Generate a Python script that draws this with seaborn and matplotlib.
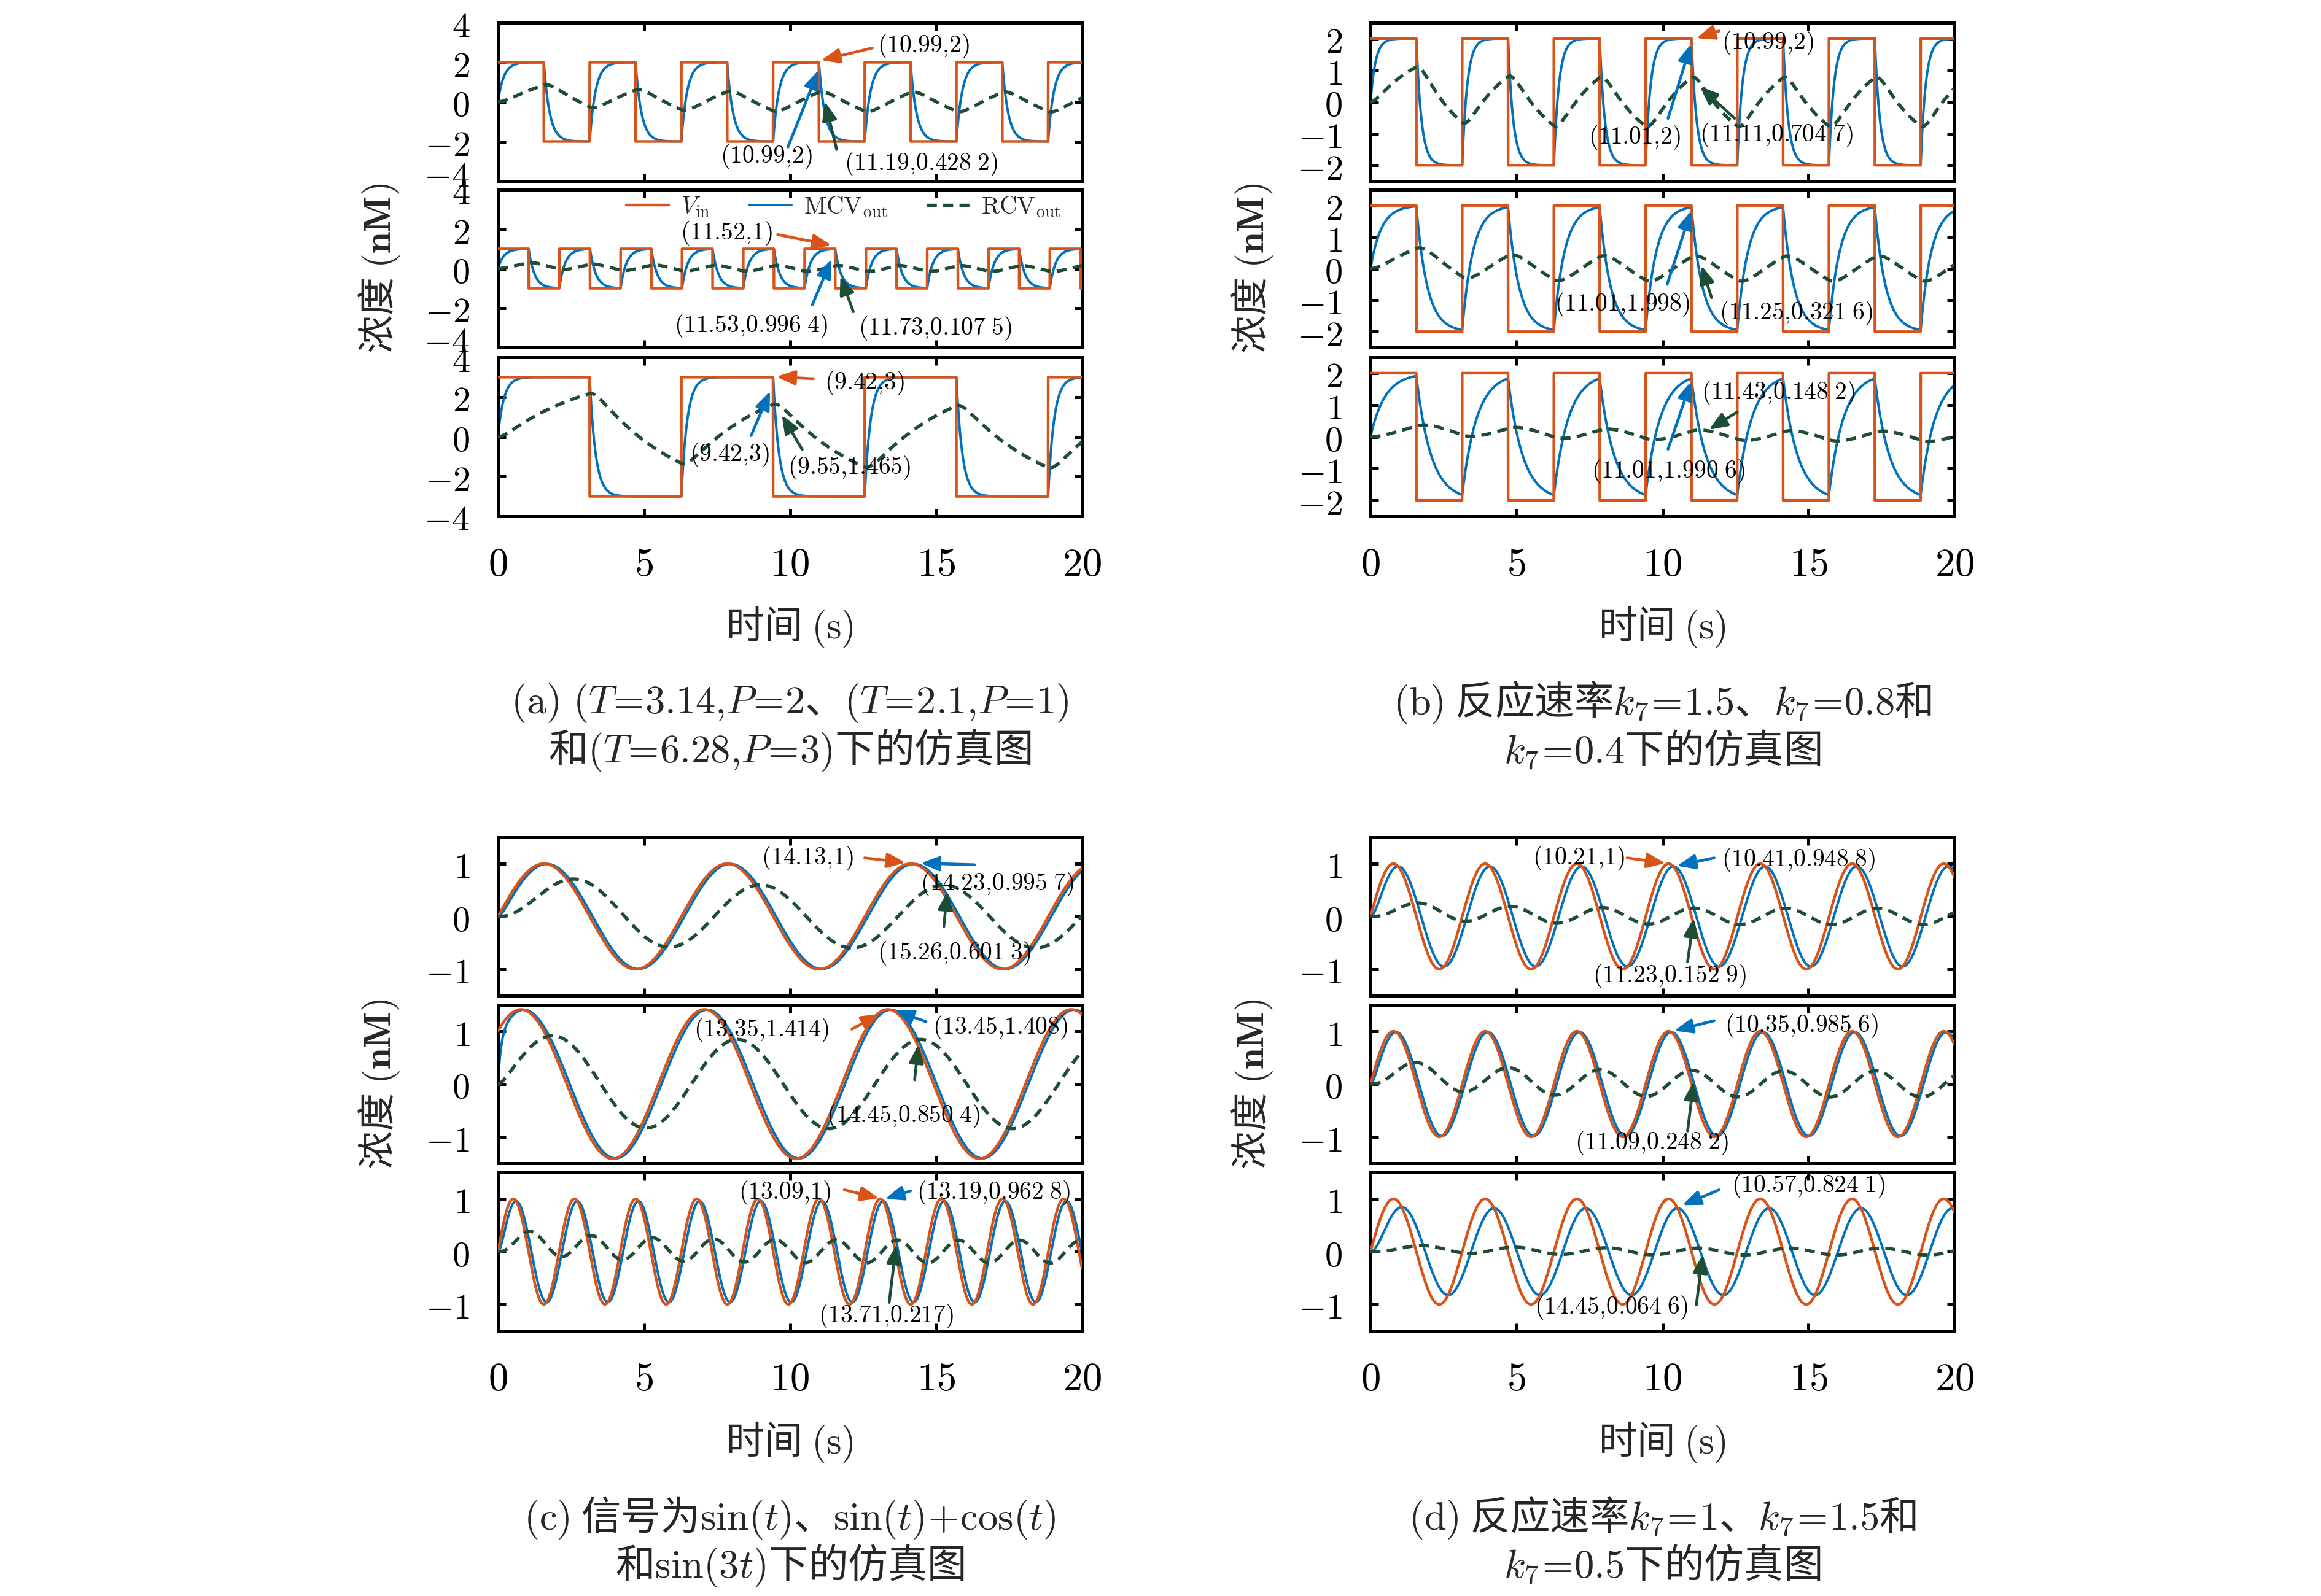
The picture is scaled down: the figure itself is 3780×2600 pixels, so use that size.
import numpy as np
import matplotlib
matplotlib.use("Agg")
import matplotlib.pyplot as plt
from matplotlib.lines import Line2D
from matplotlib.ticker import FixedLocator, FuncFormatter
from matplotlib.transforms import ScaledTranslation
import seaborn as sns

# ---------------- data ----------------
t_end = 20.0
dt = 0.002

# (a) square inputs: period T and amplitude P
a_period = [3.14, 2.1, 6.28]
a_amp = [2, 1, 3]
# (b) square input T=3.14, P=2 with k7 = 1.5, 0.8, 0.4
b_period = [3.14, 3.14, 3.14]
b_amp = [2, 2, 2]
b_k7 = [1.5, 0.8, 0.4]
# (c) sine inputs
c_signals = ["sin(t)", "sin(t)+cos(t)", "sin(3t)"]
# (d) sin(2t) input with k7 = 1, 1.5, 0.5
d_signals = ["sin(2t)", "sin(2t)", "sin(2t)"]
d_k7 = [1, 1.5, 0.5]

# response rates estimated from the curves
# MCV follows the input, RCV accumulates the MCV with a slow leak
a_mcv_rate = [5.0, 5.0, 5.0]
a_rcv_gain = [0.39, 0.39, 0.39]
a_rcv_decay = [0.34, 0.34, 0.34]
b_mcv_rate = [5.8, 2.7, 2.0]
b_rcv_gain = [0.62, 0.38, 0.17]
b_rcv_decay = [0.7, 0.6, 0.15]
c_mcv_rate = [10.0, 10.0, 10.0]
c_rcv_gain = [0.70, 0.70, 0.68]
c_rcv_decay = [0.6, 0.6, 0.3]
d_mcv_rate = [6.0, 11.0, 2.9]
d_rcv_gain = [0.326, 0.51, 0.158]
d_rcv_decay = [0.3, 0.3, 0.3]

# annotation labels (series, text) per sub-plot
a_notes = [[("vin", r"$(10.99{,}2)$"), ("mcv", r"$(10.99{,}2)$"), ("rcv", r"$(11.19{,}0.428\;2)$")],
           [("vin", r"$(11.52{,}1)$"), ("mcv", r"$(11.53{,}0.996\;4)$"), ("rcv", r"$(11.73{,}0.107\;5)$")],
           [("vin", r"$(9.42{,}3)$"), ("mcv", r"$(9.42{,}3)$"), ("rcv", r"$(9.55{,}1.465)$")]]
b_notes = [[("vin", r"$(10.99{,}2)$"), ("mcv", r"$(11.01{,}2)$"), ("rcv", r"$(11.11{,}0.704\;7)$")],
           [("mcv", r"$(11.01{,}1.998)$"), ("rcv", r"$(11.25{,}0.321\;6)$")],
           [("rcv", r"$(11.43{,}0.148\;2)$"), ("mcv", r"$(11.01{,}1.990\;6)$")]]
c_notes = [[("vin", r"$(14.13{,}1)$"), ("mcv", r"$(14.23{,}0.995\;7)$"), ("rcv", r"$(15.26{,}0.601\;3)$")],
           [("vin", r"$(13.35{,}1.414)$"), ("mcv", r"$(13.45{,}1.408)$"), ("rcv", r"$(14.45{,}0.850\;4)$")],
           [("vin", r"$(13.09{,}1)$"), ("mcv", r"$(13.19{,}0.962\;8)$"), ("rcv", r"$(13.71{,}0.217)$")]]
d_notes = [[("vin", r"$(10.21{,}1)$"), ("mcv", r"$(10.41{,}0.948\;8)$"), ("rcv", r"$(11.23{,}0.152\;9)$")],
           [("mcv", r"$(10.35{,}0.985\;6)$"), ("rcv", r"$(11.09{,}0.248\;2)$")],
           [("mcv", r"$(10.57{,}0.824\;1)$"), ("rcv", r"$(14.45{,}0.064\;6)$")]]

captions = [
    (r"$(\mathrm{a})\ (T\!=\!3.14{,}P\!=\!2$、$(T\!=\!2.1{,}P\!=\!1)$",
     r"和$(T\!=\!6.28{,}P\!=\!3)$下的仿真图"),
    (r"$(\mathrm{b})$ 反应速率$k_7\!=\!1.5$、$k_7\!=\!0.8$和",
     r"$k_7\!=\!0.4$下的仿真图"),
    (r"$(\mathrm{c})$ 信号为$\mathrm{sin}(t)$、$\mathrm{sin}(t)\!+\!\mathrm{cos}(t)$",
     r"和$\mathrm{sin}(3t)$下的仿真图"),
    (r"$(\mathrm{d})$ 反应速率$k_7\!=\!1$、$k_7\!=\!1.5$和",
     r"$k_7\!=\!0.5$下的仿真图"),
]

# ---------------- layout (pixels of the 3780x2600 canvas) ----------------
# annotation placement: tip (x, y), arrow tail (x, y), text centre (x, y)
a_place = [[((11.07, 2.1), (12.82, 2.72), (14.57, 2.84)),
            ((10.98, 1.6), (9.93, -2.28), (9.19, -2.76)),
            ((11.2, 0.0), (11.6, -2.4), (14.48, -3.12))],
           [((11.42, 1.18), (9.58, 1.72), (7.83, 1.78)),
            ((11.42, 0.46), (10.77, -1.83), (8.67, -2.92)),
            ((11.73, -0.39), (12.17, -2.19), (14.97, -3.04))],
           [((9.54, 3.02), (10.8, 2.92), (12.56, 2.71)),
            ((9.32, 2.29), (8.67, 0.06), (7.92, -0.92)),
            ((9.72, 1.1), (10.42, -0.64), (12.03, -1.55))]]
b_place = [[((11.16, 2.01), (11.94, 2.24), (13.6, 1.87)),
            ((10.98, 1.83), (10.19, -0.52), (9.05, -1.12)),
            ((11.28, 0.49), (12.47, -0.52), (13.9, -1.04))],
           [((10.98, 1.83), (10.16, -0.5), (8.62, -1.14)),
            ((11.33, 0.1), (11.68, -0.92), (14.57, -1.41))],
           [((11.59, 0.22), (12.56, 0.78), (13.96, 1.39)),
            ((10.98, 1.74), (10.19, -0.39), (10.19, -1.09))]]
c_place = [[((13.96, 1.02), (12.56, 1.11), (10.6, 1.11)),
            ((14.48, 1.01), (16.32, 0.98), (17.1, 0.62)),
            ((15.39, 0.48), (15.27, -0.19), (15.62, -0.70))],
           [((13.08, 1.33), (12.12, 1.04), (9.02, 1.02)),
            ((13.6, 1.4), (14.66, 1.18), (17.2, 1.07)),
            ((14.4, 0.75), (14.27, 0.08), (13.87, -0.6))],
           [((13.05, 1.01), (11.86, 1.17), (9.81, 1.12)),
            ((13.26, 1.0), (14.13, 1.15), (16.97, 1.12)),
            ((13.64, 0.13), (13.4, -0.96), (13.29, -1.22))]]
d_place = [[((10.1, 1.01), (8.79, 1.11), (7.13, 1.11)),
            ((10.5, 0.96), (11.77, 1.11), (14.66, 1.07)),
            ((11.07, -0.03), (10.86, -0.86), (10.23, -1.13))],
           [((10.4, 1.01), (11.77, 1.2), (14.75, 1.11)),
            ((11.07, 0.05), (10.86, -0.89), (9.63, -1.11))],
           [((10.68, 0.88), (11.94, 1.17), (15.0, 1.25)),
            ((11.38, -0.05), (11.16, -1.01), (8.23, -1.06))]]

W, H = 3780, 2600
col_x = [(811, 1762), (2232, 3183)]
row_y = [[(37, 295), (309, 566), (582, 841)],
         [(1364, 1622), (1637, 1895), (1910, 2168)]]

ORANGE = "#D95319"
BLUE = "#0072BD"
GREEN = "#1E4D36"
DASH = (0, (3, 1.9))
colors = {"vin": ORANGE, "mcv": BLUE, "rcv": GREEN}

# ---------------- model ----------------
t = np.arange(0, t_end + dt / 2, dt)


def square_input(period, amp):
    return amp * np.where((t % period) < period / 2, 1.0, -1.0)


sine_inputs = {"sin(t)": np.sin(t), "sin(t)+cos(t)": np.sin(t) + np.cos(t),
               "sin(3t)": np.sin(3 * t), "sin(2t)": np.sin(2 * t)}


def follow(u, rate):
    y = np.zeros_like(u)
    e = np.exp(-rate * dt)
    for i in range(1, len(u)):
        y[i] = u[i - 1] + (y[i - 1] - u[i - 1]) * e
    return y


def accumulate(y, gain, decay):
    z = np.zeros_like(y)
    e = np.exp(-decay * dt)
    step = gain * (1 - e) / decay
    for i in range(1, len(y)):
        z[i] = z[i - 1] * e + step * y[i - 1]
    return z


panels = [
    dict(col=0, grp=0, inputs=[square_input(p, a) for p, a in zip(a_period, a_amp)],
         rate=a_mcv_rate, gain=a_rcv_gain, decay=a_rcv_decay,
         ylim=4, yticks=[-4, -2, 0, 2, 4], notes=a_notes, place=a_place, lift=True),
    dict(col=1, grp=0, inputs=[square_input(p, a) for p, a in zip(b_period, b_amp)],
         rate=b_mcv_rate, gain=b_rcv_gain, decay=b_rcv_decay,
         ylim=2.5, yticks=[-2, -1, 0, 1, 2], notes=b_notes, place=b_place, lift=False),
    dict(col=0, grp=1, inputs=[sine_inputs[s] for s in c_signals],
         rate=c_mcv_rate, gain=c_rcv_gain, decay=c_rcv_decay,
         ylim=1.5, yticks=[-1, 0, 1], notes=c_notes, place=c_place, lift=False),
    dict(col=1, grp=1, inputs=[sine_inputs[s] for s in d_signals],
         rate=d_mcv_rate, gain=d_rcv_gain, decay=d_rcv_decay,
         ylim=1.5, yticks=[-1, 0, 1], notes=d_notes, place=d_place, lift=False),
]

# ---------------- style ----------------
sns.set_style("ticks")
plt.rcParams["font.family"] = ["Noto Sans CJK SC", "DejaVu Sans"]
plt.rcParams["mathtext.fontset"] = "cm"
plt.rcParams["axes.linewidth"] = 1.2
plt.rcParams["axes.unicode_minus"] = True

fig = plt.figure(figsize=(W / 300, H / 300), dpi=300)
fmt = FuncFormatter(lambda v, p: f"${v:g}$")


def fx(px):
    return px / W


def fy(py):
    return 1 - py / H


for k, pn in enumerate(panels):
    left, right = col_x[pn["col"]]
    rows = row_y[pn["grp"]]
    for r in range(3):
        top, bottom = rows[r]
        ax = fig.add_axes([fx(left), fy(bottom), (right - left) / W, (bottom - top) / H])
        u = pn["inputs"][r]
        mcv = follow(u, pn["rate"][r])
        rcv = accumulate(mcv, pn["gain"][r], pn["decay"][r])

        sns.lineplot(x=t, y=u, ax=ax, color=ORANGE, linewidth=1.05, zorder=3,
                     estimator=None, sort=False)
        sns.lineplot(x=t, y=mcv, ax=ax, color=BLUE, linewidth=0.95, zorder=2,
                     estimator=None, sort=False)
        sns.lineplot(x=t, y=rcv, ax=ax, color=GREEN, linewidth=1.3, zorder=4,
                     linestyle=DASH, estimator=None, sort=False)

        ax.set_xlim(0, t_end)
        ax.set_ylim(-pn["ylim"], pn["ylim"])
        ax.xaxis.set_major_locator(FixedLocator([0, 5, 10, 15, 20]))
        ax.yaxis.set_major_locator(FixedLocator(pn["yticks"]))
        ax.xaxis.set_major_formatter(fmt)
        ax.yaxis.set_major_formatter(fmt)
        ax.tick_params(direction="in", length=3, width=1.2, top=True, right=True,
                       pad=11, colors="black")
        ax.tick_params(axis="x", labelsize=15.5)
        ax.tick_params(axis="y", labelsize=14)
        ax.tick_params(labelbottom=(r == 2))
        ax.set_xlabel("")
        ax.set_ylabel("")
        for s in ax.spines.values():
            s.set_linewidth(1.2)
            s.set_color("black")

        # the lowest y label of the upper plots sits a little higher, as in the source
        if pn["lift"] and r < 2:
            lab = ax.yaxis.get_major_ticks()[0].label1
            lab.set_transform(lab.get_transform() + ScaledTranslation(0, 3.6 / 72, fig.dpi_scale_trans))

        for (series, label), (tip, tail, txt) in zip(pn["notes"][r], pn["place"][r]):
            c = colors[series]
            ax.annotate("", xy=tip, xytext=tail,
                        arrowprops=dict(arrowstyle="-|>,head_length=0.5,head_width=0.2",
                                        color=c, lw=1.1, mutation_scale=12,
                                        shrinkA=0, shrinkB=0), zorder=5)
            ax.text(txt[0], txt[1], label, ha="center", va="center",
                    fontsize=9.5, color="black", zorder=6)

        if k == 0 and r == 1:
            handles = [Line2D([], [], color=ORANGE, lw=1.05),
                       Line2D([], [], color=BLUE, lw=0.95),
                       Line2D([], [], color=GREEN, lw=1.3, linestyle=DASH)]
            labels = [r"$V_{\mathrm{in}}$", r"$\mathrm{MCV}_{\mathrm{out}}$",
                      r"$\mathrm{RCV}_{\mathrm{out}}$"]
            ax.legend(handles, labels, ncol=3, frameon=False, loc="center right",
                      bbox_to_anchor=((1728 - left) / (right - left), 1 - (337 - top) / (bottom - top)),
                      fontsize=9.5, handlelength=1.75, handletextpad=0.5,
                      columnspacing=1.6, borderpad=0, borderaxespad=0)

    cx = (left + right) / 2
    mid_top, mid_bot = rows[1]
    fig.text(fx(left - 193), fy((mid_top + mid_bot) / 2), r"浓度 $(\mathbf{nM})$",
             rotation=90, ha="center", va="center", fontsize=15)
    last = rows[2][1]
    fig.text(fx(cx), fy(last + 181), r"时间 $(\mathrm{s})$", ha="center", va="center",
             fontsize=15)
    fig.text(fx(cx), fy(last + 304), captions[k][0], ha="center", va="center", fontsize=15.5)
    fig.text(fx(cx), fy(last + 382), captions[k][1], ha="center", va="center", fontsize=15.5)

fig.savefig("out.png", dpi=300, facecolor="white")
